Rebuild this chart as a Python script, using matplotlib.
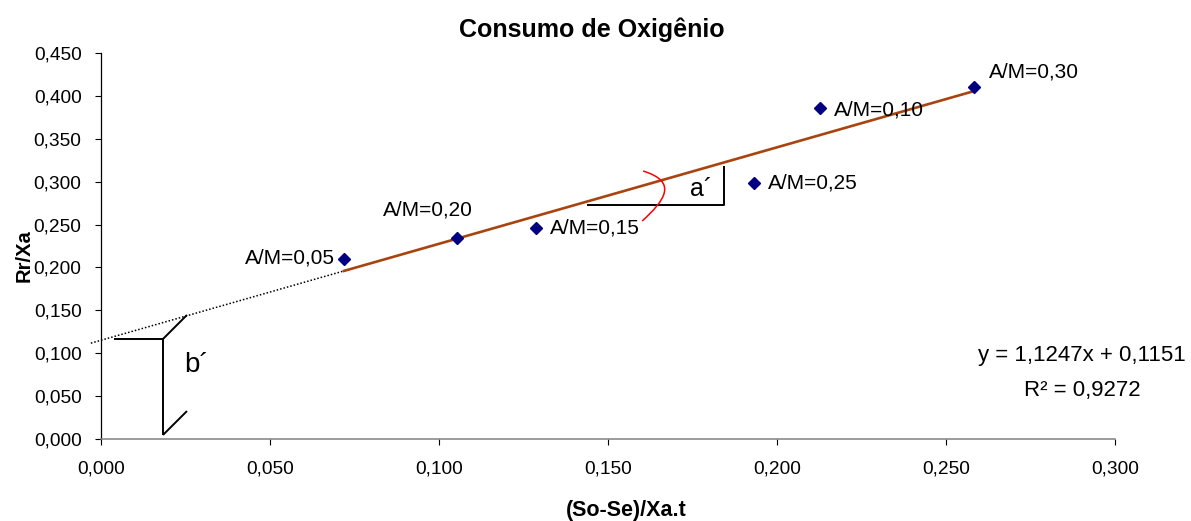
import numpy as np
import matplotlib
matplotlib.use("Agg")
import matplotlib.pyplot as plt
from matplotlib.path import Path
from matplotlib.patches import PathPatch

plt.rcParams['font.family'] = ['Liberation Sans', 'DejaVu Sans']

# Data: specific consumption vs. specific substrate removal
labels = ["A/M=0,05", "A/M=0,20", "A/M=0,15", "A/M=0,25", "A/M=0,10", "A/M=0,30"]
x_vals = [0.0719, 0.1053, 0.1287, 0.1932, 0.2127, 0.2583]
y_vals = [0.2099, 0.2344, 0.2460, 0.2985, 0.3860, 0.4105]

# Linear fit reported on the chart
slope = 1.1247
intercept = 0.1151
r2 = 0.9272

x_ticks = [0.000, 0.050, 0.100, 0.150, 0.200, 0.250, 0.300]
y_ticks = [0.000, 0.050, 0.100, 0.150, 0.200, 0.250, 0.300, 0.350, 0.400, 0.450]

# label offsets in pixels (dx, dy) and horizontal alignment
label_offsets = [(-9, 1, 'right'), (-74, 28, 'left'), (14, 0, 'left'),
                 (14, 0, 'left'), (14, -2, 'left'), (15, 15, 'left')]

W, H = 1191, 521
fig = plt.figure(figsize=(W / 100, H / 100), dpi=100)
ax = fig.add_axes([101 / W, 82 / H, 1014 / W, 386 / H])
ax.set_xlim(0, 0.3)
ax.set_ylim(0, 0.45)

for s in ('top', 'right'):
    ax.spines[s].set_visible(False)
ax.spines['left'].set_color('black')
ax.spines['left'].set_linewidth(0.9)
ax.spines['bottom'].set_color('#808080')
ax.spines['bottom'].set_linewidth(1.1)

fmt = lambda v: f"{v:.3f}".replace('.', ',')
ax.set_xticks(x_ticks)
ax.set_xticklabels([fmt(v) for v in x_ticks])
ax.set_yticks(y_ticks)
ax.set_yticklabels([fmt(v) for v in y_ticks])
ax.tick_params(axis='both', direction='out', labelsize=13.8, width=0.8, color='black')
ax.tick_params(axis='x', length=4.5, pad=11)
ax.tick_params(axis='y', length=4, pad=10)

# trend line over the data range
xs = np.array([min(x_vals), max(x_vals)])
ax.plot(xs, slope * xs + intercept, color='#A8440F', lw=1.9, zorder=3)

# dotted backward extension to the y axis
xd = np.array([-0.003, 0.0752])
ax.plot(xd, slope * xd + intercept, color='black', lw=1.1,
        linestyle=(0, (1, 1.3)), clip_on=False, zorder=2)

# points
ax.plot(x_vals, y_vals, linestyle='none', marker='D', markersize=6.2,
        color='#000080', zorder=4)

for lab, xv, yv, (dx, dy, ha) in zip(labels, x_vals, y_vals, label_offsets):
    ax.annotate(lab, (xv, yv), xytext=(dx, dy), textcoords='offset pixels',
                ha=ha, va='center', fontsize=15, color='black')

# b' bracket (intercept)
k = dict(color='black', lw=1.4, solid_capstyle='butt', zorder=3)
ax.plot([0.00385, 0.01834], [0.1166, 0.1166], **k)
ax.plot([0.01834, 0.01834], [0.1166, 0.0047], **k)
ax.plot([0.01834, 0.02544], [0.1166, 0.1446], **k)
ax.plot([0.01834, 0.02544], [0.0047, 0.0326], **k)
ax.text(0.0283, 0.0863, "b\u00b4", fontsize=20, ha='center', va='center')

# a' triangle (slope)
ax.plot([0.1438, 0.1843, 0.1843], [0.2728, 0.2728, 0.3183], **k)
ax.text(0.1775, 0.2914, "a\u00b4", fontsize=18, ha='center', va='center')

# red arc marking the angle
arc = Path([(0.1604, 0.3124), (0.1710, 0.2996), (0.1666, 0.2775), (0.1601, 0.2541)],
           [Path.MOVETO, Path.CURVE4, Path.CURVE4, Path.CURVE4])
ax.add_patch(PathPatch(arc, facecolor='none', edgecolor='red', lw=1.1, zorder=5))

# regression equation
ax.text((1082 - 101) / 1014 * 0.3, (439 - 355) / 857.8, "y = 1,1247x + 0,1151",
        fontsize=16, ha='center', va='center')
ax.text((1082 - 101) / 1014 * 0.3, (439 - 390) / 857.8, f"R\u00b2 = {r2:.4f}".replace('.', ','),
        fontsize=16, ha='center', va='center')

fig.text(592 / W, (H - 37) / H, "Consumo de Oxigênio", fontsize=18, fontweight='bold',
         ha='center', va='baseline')
fig.text(626 / W, 5 / H, "(So-Se)/Xa.t", fontsize=15.5, fontweight='bold',
         ha='center', va='baseline')
fig.text(24 / W, (H - 256) / H, "Rr/Xa", fontsize=14.5, fontweight='bold',
         ha='center', va='center', rotation=90)

fig.savefig("out.png", dpi=100)
